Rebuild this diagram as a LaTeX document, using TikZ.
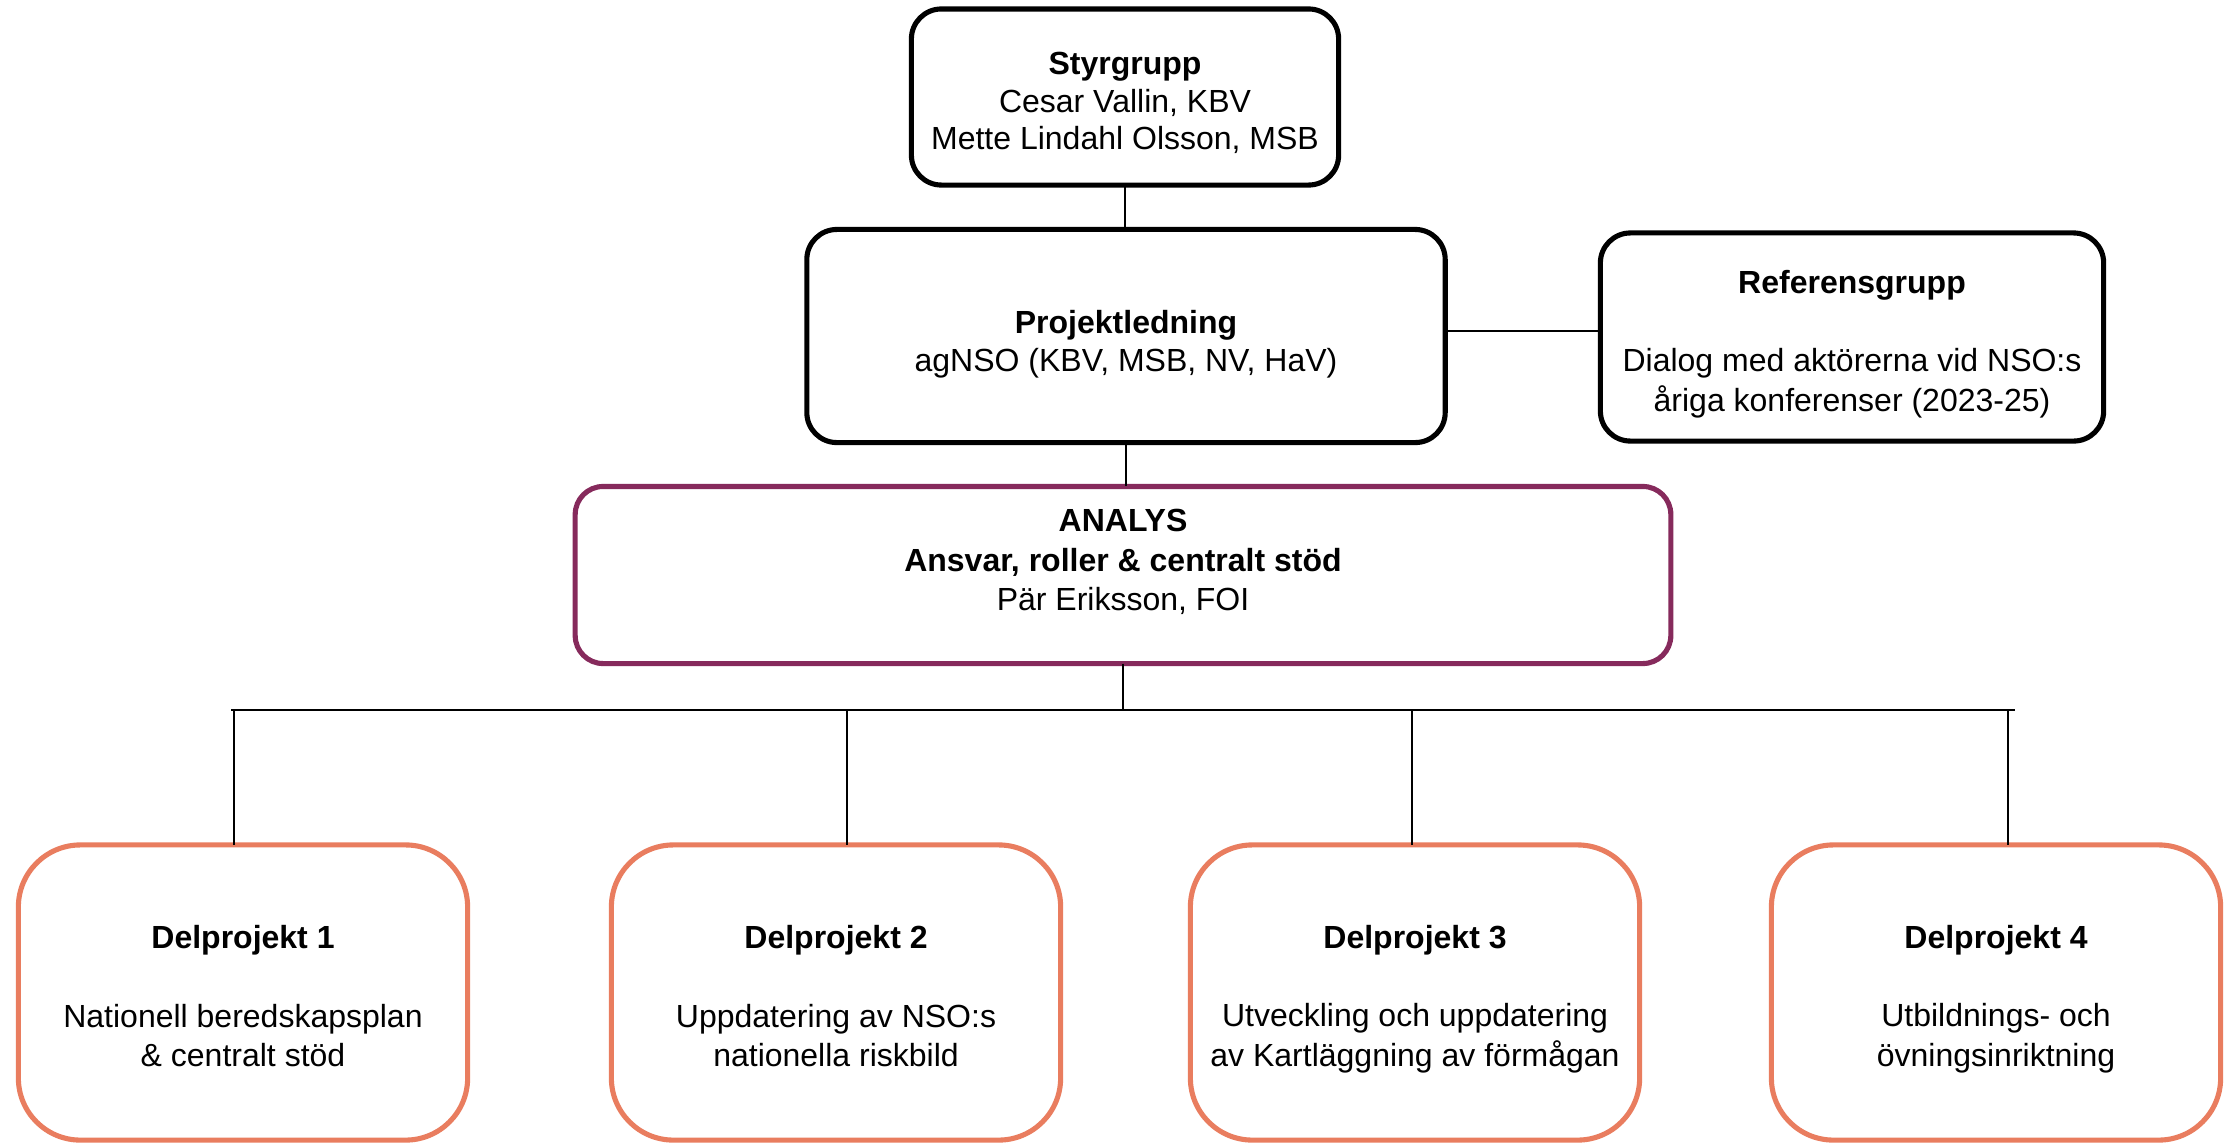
\documentclass[tikz,border=0pt]{standalone}
\usepackage{fontspec}
\setmainfont{Liberation Sans}
\definecolor{analysPurple}{HTML}{862A5C}
\definecolor{dpOrange}{HTML}{E97D5F}
\begin{document}
\begin{tikzpicture}[x=0.01cm,y=-0.01cm,
  every node/.style={align=center, inner sep=0pt, outer sep=0pt},
  txtA/.style={font=\fontsize{9.1}{10.7}\selectfont},
  txtB/.style={font=\fontsize{9.1}{11.2}\selectfont},
  blackbox/.style={draw=black, line width=1.45pt, rounded corners=0.3cm, fill=white},
  analysbox/.style={draw=analysPurple, line width=1.45pt, rounded corners=0.28cm, fill=white},
  dpbox/.style={draw=dpOrange, line width=1.45pt, rounded corners=0.62cm, fill=white,
                minimum width=4.49cm, minimum height=2.95cm},
  conn/.style={draw=black, line width=0.6pt}]
\useasboundingbox (0,0) rectangle (2225,1142);

% top boxes
\node[blackbox, minimum width=4.27cm, minimum height=1.76cm] (sty) at (1125,97) {};
\node[txtA] (styT) at (1125,103)
  {\textbf{Styrgrupp}\\Cesar Vallin, KBV\\Mette Lindahl Olsson, MSB};
\node[blackbox, minimum width=6.38cm, minimum height=2.13cm] (proj) at (1126,336) {};
\node[txtA] (projT) at (1126,344)
  {\textbf{Projektledning}\\agNSO (KBV, MSB, NV, HaV)};
\node[blackbox, minimum width=5.03cm, minimum height=2.08cm] (ref) at (1852,337) {};
\node[txtB] (refT) at (1852,344)
  {\textbf{Referensgrupp}\\[11.2pt]Dialog med aktörerna vid NSO:s\\åriga konferenser (2023-25)};

% analys
\node[analysbox, minimum width=10.95cm, minimum height=1.77cm] (analys) at (1123,575) {};
\node[txtB] (analysT) at (1123,562)
  {\textbf{ANALYS}\\\textbf{Ansvar, roller \& centralt stöd}\\Pär Eriksson, FOI};

% delprojekt boxes
\node[dpbox] (dp1) at (243,992.5) {};
\node[dpbox] (dp2) at (836,992.5) {};
\node[dpbox] (dp3) at (1415,992.5) {};
\node[dpbox] (dp4) at (1996,992.5) {};
\node[txtB] (dp1T) at (243,996)
  {\textbf{Delprojekt 1}\\[11.2pt]Nationell beredskapsplan\\\& centralt stöd};
\node[txtB] (dp2T) at (836,996)
  {\textbf{Delprojekt 2}\\[11.2pt]Uppdatering av NSO:s\\nationella riskbild};
\node[txtB] (dp3T) at (1415,999)
  {\textbf{Delprojekt 3}\\[11.2pt]Utveckling och uppdatering\\av Kartläggning av förmågan};
\node[txtB] (dp4T) at (1996,999)
  {\textbf{Delprojekt 4}\\[11.2pt]Utbildnings- och\\övningsinriktning};

% connectors
\coordinate (hl) at (0,331);
\draw[conn] (sty.south) -- (sty.south |- proj.north);
\draw[conn] (proj.south) -- (proj.south |- analys.north);
\draw[conn] (proj.east |- hl) -- (ref.west |- hl);

\coordinate (busL) at (231,710);
\coordinate (busR) at (2015,710);
\coordinate (b1) at (234,710);
\coordinate (b2) at (847,710);
\coordinate (b3) at (1412,710);
\coordinate (b4) at (2008,710);
\draw[conn] (analys.south) -- (analys.south |- busL);
\draw[conn] (busL) -- (busR);
\draw[conn] (b1) -- (b1 |- dp1.north);
\draw[conn] (b2) -- (b2 |- dp2.north);
\draw[conn] (b3) -- (b3 |- dp3.north);
\draw[conn] (b4) -- (b4 |- dp4.north);
\end{tikzpicture}
\end{document}
